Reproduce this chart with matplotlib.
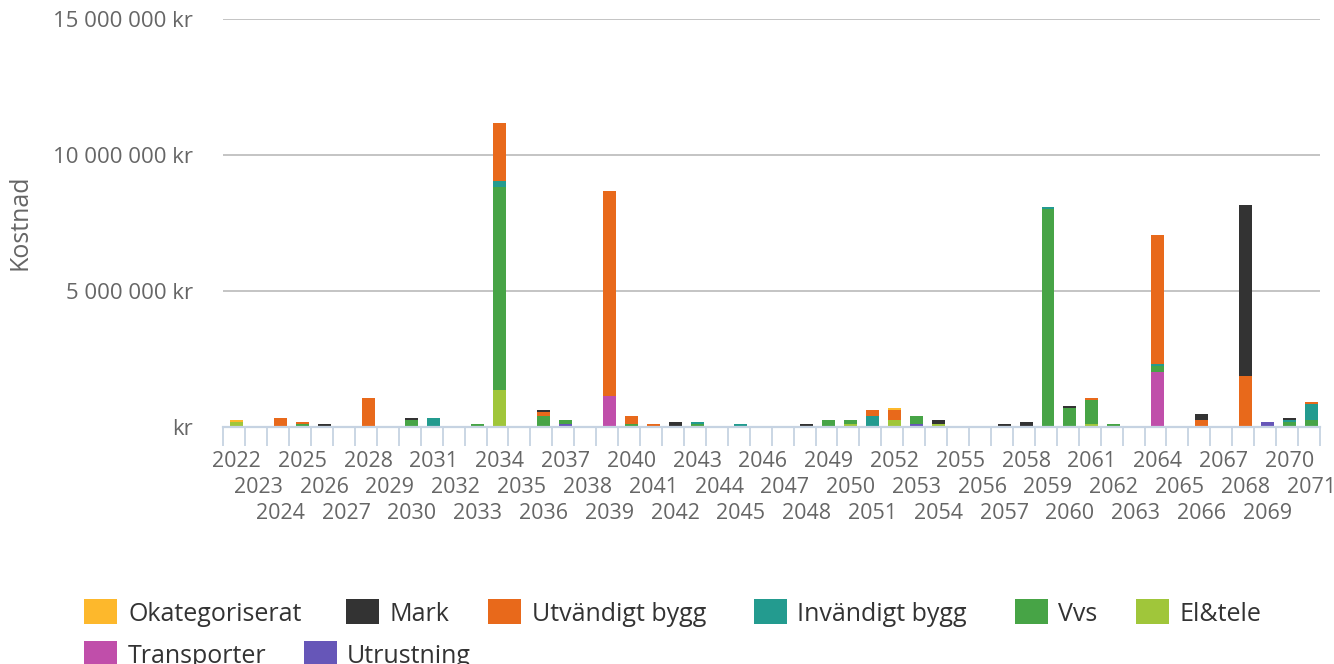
import matplotlib
matplotlib.use("Agg")
import matplotlib.pyplot as plt
from matplotlib.patches import Rectangle
from matplotlib.ticker import FuncFormatter
import numpy as np

plt.rcParams['font.family'] = ['Open Sans', 'DejaVu Sans']

years = list(range(2022, 2072))

# values in thousands of kr
okategoriserat = [75,0,0,0,0,0,0,0,0,0,
                  0,0,0,0,0,0,0,0,0,0,
                  0,0,0,0,0,0,0,0,0,0,
                  74,0,0,0,0,0,0,0,0,0,
                  0,0,0,0,0,0,0,0,0,0]
mark = [0,0,0,0,80,0,0,0,74,0,
        0,0,0,0,74,0,0,0,0,0,
        148,0,0,0,0,0,74,0,0,0,
        0,0,148,0,0,74,148,0,74,0,
        0,0,0,0,222,0,6280,0,74,0]
utvandigt = [0,0,295,74,0,0,1070,0,0,0,
             0,0,2130,0,148,0,0,7530,295,74,
             0,0,0,0,0,0,0,0,0,221,
             369,0,0,37,0,0,0,0,0,74,
             0,0,4730,0,258,0,1850,0,0,74]
invandigt = [0,0,0,0,0,0,0,0,0,295,
             0,0,220,0,0,0,0,0,0,0,
             37,74,0,74,0,0,0,0,0,406,
             0,0,0,0,0,0,37,70,0,0,
             0,0,74,0,0,0,0,0,74,591]
vvs = [0,0,37,110,30,0,0,37,258,0,
       0,110,7460,0,406,148,37,0,110,37,
       0,74,37,37,0,0,0,258,148,0,
       0,295,0,0,37,37,0,7980,702,887,
       74,0,222,0,0,0,37,0,148,222]
eltele = [148,0,0,0,0,0,0,0,0,37,
          0,0,1370,0,0,0,0,0,0,0,
          0,0,0,0,0,0,0,0,110,0,
          258,0,110,0,0,0,0,0,0,110,
          0,0,0,0,0,0,0,0,0,37]
transporter = [0,0,0,0,0,0,0,0,0,0,
               0,0,0,0,0,0,0,1140,0,0,
               0,0,0,0,0,0,0,0,0,0,
               0,0,0,0,0,0,0,0,0,0,
               0,0,2000,0,0,0,0,0,0,0]
utrustning = [37,0,0,0,0,37,0,0,0,0,
              37,0,0,0,0,110,0,0,0,0,
              0,37,0,0,0,0,37,0,0,0,
              0,110,0,0,0,0,0,37,0,0,
              37,0,37,0,0,0,0,185,37,0]

series_names = ["Okategoriserat", "Mark", "Utvändigt bygg", "Invändigt bygg",
                "Vvs", "El&tele", "Transporter", "Utrustning"]
series_values = [okategoriserat, mark, utvandigt, invandigt, vvs, eltele,
                 transporter, utrustning]
colors = ["#FDB82C", "#333333", "#E8691B", "#239B8F", "#47A446", "#A0C63A",
          "#C04EAA", "#6656B8"]

W, H = 1334, 664
fig = plt.figure(figsize=(W / 100, H / 100), dpi=100)
ax_left, ax_right, ax_bottom, ax_top = 223.3, 1320, 427, 19
ax = fig.add_axes([ax_left / W, 1 - ax_bottom / H, (ax_right - ax_left) / W,
                   (ax_bottom - ax_top) / H])

x = np.arange(len(years))
bottom = np.zeros(len(years))
# stack from last legend entry upward
for name, vals, col in reversed(list(zip(series_names, series_values, colors))):
    v = np.array(vals, dtype=float) * 1000
    ax.bar(x, v, width=0.59, bottom=bottom, color=col, linewidth=0, zorder=3)
    bottom += v

ax.set_xlim(-0.6, len(years) - 0.6)
ax.set_ylim(0, 15e6)
ax.set_yticks([0, 5e6, 10e6, 15e6])

def yfmt(v, pos):
    if v == 0:
        return "kr"
    return f"{int(v):,}".replace(",", " ") + " kr"

ax.yaxis.set_major_formatter(FuncFormatter(yfmt))
ax.grid(axis='y', color='#c4c4c4', linewidth=1.4, zorder=0)
ax.tick_params(axis='y', length=0, pad=30 * 0.72, labelsize=16, labelcolor='#666666')

TICK_FS = 15.5
row_pad0 = 17.5           # points
row_step = 25.7 * 0.72    # points per row

# row 1 on the primary axis
ax.set_xticks(x[0::3])
ax.set_xticklabels([str(years[i]) for i in x[0::3]])
ax.tick_params(axis='x', which='major', length=0, pad=row_pad0, labelsize=TICK_FS,
               labelcolor='#666666')
ax.set_xticks(np.arange(len(years) + 1) - 0.6, minor=True)
ax.tick_params(axis='x', which='minor', length=14, width=1.3, color='#C6D3E2')

# rows 2 and 3 on secondary axes at the same place
for r in (1, 2):
    sec = ax.secondary_xaxis('bottom')
    idx = x[r::3]
    sec.set_xticks(idx)
    sec.set_xticklabels([str(years[i]) for i in idx])
    sec.tick_params(axis='x', length=0, pad=row_pad0 + r * row_step,
                    labelsize=TICK_FS, labelcolor='#666666')
    sec.spines['bottom'].set_visible(False)

for s in ['top', 'right', 'left']:
    ax.spines[s].set_visible(False)
ax.spines['bottom'].set_color('#C6D3E2')
ax.spines['bottom'].set_linewidth(1.6)
ax.spines['bottom'].set_zorder(4)

fig.text(20 / W, 1 - 222 / H, "Kostnad", rotation=90, ha='center', va='center',
         fontsize=18, color='#666666')

# legend drawn manually (flow layout)
legend_pos = [(84, 128, 611.5), (346, 390, 611.5), (488, 532, 611.5),
              (754, 797, 611.5), (1015, 1058, 611.5), (1136, 1179, 611.5),
              (84, 128, 653.5), (304, 347, 653.5)]
for (sx, tx, cy), name, col in zip(legend_pos, series_names, colors):
    fig.patches.append(Rectangle((sx / W, 1 - (cy + 12.5) / H), 33 / W, 25 / H,
                                 transform=fig.transFigure, color=col,
                                 linewidth=0))
    fig.text(tx / W, 1 - cy / H, name, ha='left', va='center_baseline',
             fontsize=18, color='#333333')

fig.savefig("out.png", dpi=100)
